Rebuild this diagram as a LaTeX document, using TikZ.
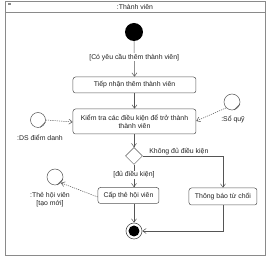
\documentclass[tikz,border=0pt]{standalone}
\usepackage{fontspec}
\setmainfont{Liberation Sans}
\usepackage{xcolor}
\usepackage{tikz}
\usetikzlibrary{positioning, arrows.meta, shapes.geometric}
\definecolor{ink}{HTML}{222222}
\definecolor{edge}{HTML}{555555}
\definecolor{rim}{HTML}{8A8A8A}

\begin{document}
\begin{tikzpicture}[
  x=1pt, y=-1pt,
  font=\fontsize{6.9}{7.8}\selectfont,
  every node/.style={align=center, text=ink},
  act/.style={rectangle, rounded corners=2.5pt, draw=edge, line width=0.5pt,
               fill=white, inner sep=1pt},
  obj/.style={circle, draw=edge, line width=0.5pt, fill=white,
              minimum size=15pt, inner sep=0pt},
  guard/.style={fill=white, inner sep=0.8pt},
  arr/.style={-{Straight Barb[length=3.5pt, width=5pt]}, line width=0.5pt, color=edge},
  arrObj/.style={arr, dashed, dash pattern=on 1.2pt off 1pt}
]
\useasboundingbox (0,0) rectangle (274,264);
% Frame and header
\draw[rim, line width=0.6pt] (5,1) rectangle (265,255);
\draw[rim, line width=0.6pt] (5,12) -- (265,12);
\fill[rim] (8,3) rectangle (11.5,5.5);
\node (head) at (135,6.5) {:Thành viên};
% Start and end
\node[circle, fill=black, minimum size=18pt, inner sep=0pt] (start) at (134,32) {};
\node[circle, draw=edge, line width=0.6pt, fill=white, minimum size=16pt,
      inner sep=0pt] (final) at (134,231) {};
\fill[black] (final) circle (5.5pt);
% Actions
\node[act, minimum width=123pt, minimum height=16pt] (recv) at (134.5,85)
  {Tiếp nhận thêm thành viên};
\node[act, minimum width=123pt, minimum height=25pt] (check) at (134.5,121.5)
  {Kiểm tra các điều kiện để trở thành\\thành viên};
\node[diamond, draw=edge, line width=0.5pt, fill=white, minimum size=17pt,
      inner sep=0pt] (dec) at (134,156) {};
\node[act, minimum width=61pt, minimum height=16pt] (card) at (128.5,195.5)
  {Cấp thẻ hội viên};
\node[act, minimum width=68pt, minimum height=17pt] (deny) at (223,196.5)
  {Thông báo từ chối};
% Object nodes
\node[obj] (roll) at (38,120) {};
\draw[edge, line width=0.5pt] (roll.-15) -- (roll.-75);
\node (rollL) at (40,138) {:DS điểm danh};
\node[obj, minimum size=16pt] (fund) at (232,102) {};
\draw[edge, line width=0.5pt] (fund.-15) -- (fund.-75);
\node (fundL) at (233,119) {:Sổ quỹ};
\node[obj, minimum size=16pt] (member) at (55,177) {};
\draw[edge, line width=0.5pt] (member.-15) -- (member.-75);
\node (memberL) at (50,199.5) {:Thẻ hội viên\\{}[tạo mới]};
% Control flow
\draw[arr] (start.south) -- node[guard, pos=0.45] {[Có yêu cầu thêm thành viên]} (recv.north);
\draw[arr] (recv.south) -- (check.north);
\draw[arr] (check.south -| dec.north) -- (dec.north);
\draw[arr] (dec.south) -- node[guard, pos=0.45] {[đủ điều kiện]} (dec.south |- card.north);
\draw[arr] (dec.east) -- node[anchor=south, pos=0.45, inner sep=0.5pt] {Không đủ điều kiện}
  (deny.north |- dec.east) -- (deny.north);
\draw[arr] (final.north |- card.south) -- (final.north);
\draw[arr] (deny.south) -- (deny.south |- final.east) -- (final.east);
% Object flow
\draw[arrObj] (roll.east) -- (check.west |- 0,122);
\draw[arrObj] (fund.south west) -- (check.east |- 0,121);
\draw[arrObj] (card.west |- 0,197) -- (member.south east);
\end{tikzpicture}
\end{document}
